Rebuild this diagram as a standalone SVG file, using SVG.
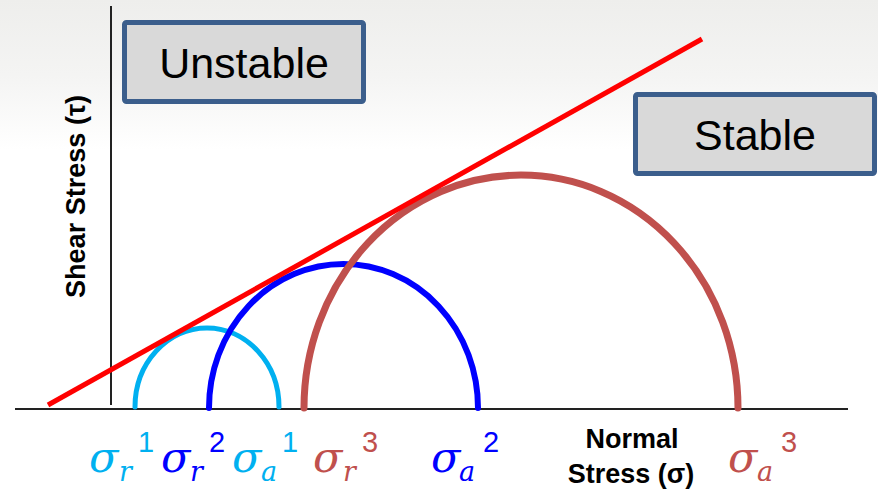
<svg xmlns="http://www.w3.org/2000/svg" width="878" height="494" viewBox="0 0 878 494">
  <defs>
    <linearGradient id="bg" x1="0" y1="0" x2="0" y2="1">
      <stop offset="0" stop-color="#eeeeec"/>
      <stop offset="0.5" stop-color="#f4f4f3"/>
      <stop offset="1" stop-color="#ffffff"/>
    </linearGradient>
  </defs>
  <style>
    .box { fill: #d9d9d9; stroke: #3b5e8c; stroke-width: 5; }
    .boxtxt { font-family: "Liberation Sans", Arial, sans-serif; font-size: 43px; fill: #000; text-anchor: middle; }
    .axis { stroke: #222; stroke-width: 2; fill: none; }
    .axlbl { font-family: "Liberation Sans", Arial, sans-serif; font-weight: bold; fill: #000; }
    .arc { fill: none; stroke-linecap: round; }
    .sig { font-family: "DejaVu Serif", "Liberation Serif", serif; font-style: italic; font-size: 43px; }
    .sub { font-family: "DejaVu Serif", "Liberation Serif", serif; font-style: italic; font-size: 27px; }
    .sup { font-family: "Liberation Sans", Arial, sans-serif; font-size: 29px; }
    .cyan { fill: #00b0f0; }
    .blue { fill: #0000ff; }
    .brown { fill: #c0504d; }
  </style>
  <rect x="0" y="0" width="878" height="494" fill="#ffffff"/>
  <rect x="0" y="0" width="878" height="150" fill="url(#bg)"/>

  <g id="axes">
    <line class="axis" x1="111" y1="6" x2="111" y2="405"/>
    <line class="axis" x1="15" y1="409" x2="848" y2="409"/>
  </g>

  <g id="shear-label">
    <text class="axlbl" font-size="27" transform="translate(85,298) rotate(-90)" textLength="203" lengthAdjust="spacingAndGlyphs">Shear Stress (τ)</text>
  </g>
  <g id="normal-label">
    <text class="axlbl" font-size="27" x="632" y="448" text-anchor="middle">Normal</text>
    <text class="axlbl" font-size="27" x="631" y="483" text-anchor="middle">Stress (σ)</text>
  </g>

  <g id="unstable">
    <rect class="box" x="124.5" y="22.5" width="239" height="79" rx="2"/>
    <text class="boxtxt" x="244" y="78">Unstable</text>
  </g>
  <g id="stable">
    <rect class="box" x="635.5" y="94.5" width="239" height="79" rx="2"/>
    <text class="boxtxt" x="755" y="150">Stable</text>
  </g>

  <g id="circles">
    <path id="circle1" class="arc" d="M135 407 A72 79 0 0 1 279 407" stroke="#00b0f0" stroke-width="5"/>
    <path id="circle2" class="arc" d="M209 408 A134.5 144 0 0 1 478 408" stroke="#0000ff" stroke-width="6"/>
    <path id="circle3" class="arc" d="M304 408 A217 233 0 0 1 738 408" stroke="#c0504d" stroke-width="7"/>
  </g>

  <g id="failure-envelope">
    <line x1="48" y1="405" x2="702" y2="39" stroke="#ff0000" stroke-width="5"/>
  </g>

  <g id="labels">
    <g id="sigma-r1" class="cyan">
      <text class="sig" x="89" y="472">σ</text>
      <text class="sub" x="119" y="481">r</text>
      <text class="sup" x="138" y="452">1</text>
    </g>
    <g id="sigma-r2" class="blue">
      <text class="sig" x="161" y="472">σ</text>
      <text class="sub" x="190" y="481">r</text>
      <text class="sup" x="209" y="452">2</text>
    </g>
    <g id="sigma-a1" class="cyan">
      <text class="sig" x="232" y="472">σ</text>
      <text class="sub" x="261" y="481">a</text>
      <text class="sup" x="282" y="452">1</text>
    </g>
    <g id="sigma-r3" class="brown">
      <text class="sig" x="313" y="472">σ</text>
      <text class="sub" x="343" y="481">r</text>
      <text class="sup" x="362" y="452">3</text>
    </g>
    <g id="sigma-a2" class="blue">
      <text class="sig" x="431" y="472">σ</text>
      <text class="sub" x="459" y="481">a</text>
      <text class="sup" x="483" y="452">2</text>
    </g>
    <g id="sigma-a3" class="brown">
      <text class="sig" x="728" y="472">σ</text>
      <text class="sub" x="757" y="481">a</text>
      <text class="sup" x="781" y="452">3</text>
    </g>
  </g>
</svg>
